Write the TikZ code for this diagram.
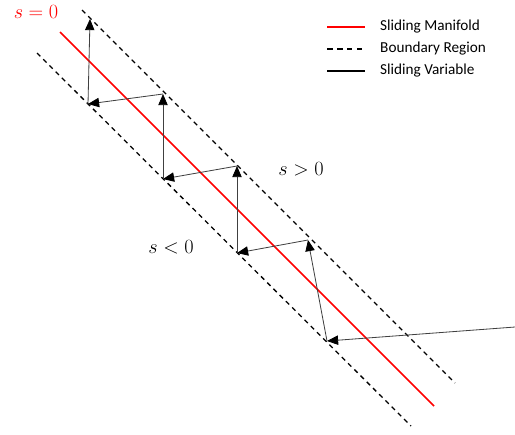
\documentclass[tikz,border=0pt]{standalone}
\usepackage{fontspec}
\setmainfont{Carlito}
\usetikzlibrary{arrows.meta}

\begin{document}
\begin{tikzpicture}[x=0.03cm,y=-0.03cm,
 manifold/.style={red,line width=1.5pt},
 bound/.style={black,line width=1.1pt,dash pattern=on 4pt off 3.5pt},
 slide/.style={black!75,line width=0.7pt,-{Triangle[length=9.5pt,width=8pt,color=black]}},
 legtext/.style={anchor=west,font=\fontsize{13}{15}\selectfont,inner sep=0pt},
 mathlab/.style={font=\fontsize{18}{21}\selectfont}]
\useasboundingbox (0,0) rectangle (515,434);
% manifold and boundary layer
\coordinate (m1) at (60,32);  \coordinate (m2) at (434,406);
\coordinate (u1) at (82,10);  \coordinate (u2) at (455,383);
\coordinate (l1) at (37,53);  \coordinate (l2) at (411,426);
\draw[manifold] (m1)--(m2);
\draw[bound] (u1)--(u2);
\draw[bound] (l1)--(l2);
% trajectory of the sliding variable
\coordinate (p0) at (515,327);
\coordinate (p1) at (327,341);
\coordinate (p2) at (308,240);
\coordinate (p3) at (237,253);
\coordinate (p4) at (237,166);
\coordinate (p5) at (163,179);
\coordinate (p6) at (163,94);
\coordinate (p7) at (88,104);
\coordinate (p8) at (90,19);
\foreach \a/\b in {p0/p1,p1/p2,p2/p3,p3/p4,p4/p5,p5/p6,p6/p7,p7/p8}{\draw[slide] (\a)--(\b);}
\node[mathlab,red] (szero) at (36,12) {$s=0$};
\node[mathlab] (spos) at (301,169) {$s>0$};
\node[mathlab] (sneg) at (171,247) {$s<0$};
% legend
\node[legtext] (lman) at (380,27) {Sliding Manifold};
\node[legtext] (lbnd) at (380,49) {Boundary Region};
\node[legtext] (lvar) at (380,71) {Sliding Variable};
\draw[red,line width=1pt] ([xshift=-45]lman.west)--([xshift=-13]lman.west);
\draw[black,line width=1pt,dash pattern=on 4.5pt off 4pt] ([xshift=-45]lbnd.west)--([xshift=-13]lbnd.west);
\draw[black,line width=1pt] ([xshift=-45]lvar.west)--([xshift=-13]lvar.west);
\end{tikzpicture}
\end{document}
